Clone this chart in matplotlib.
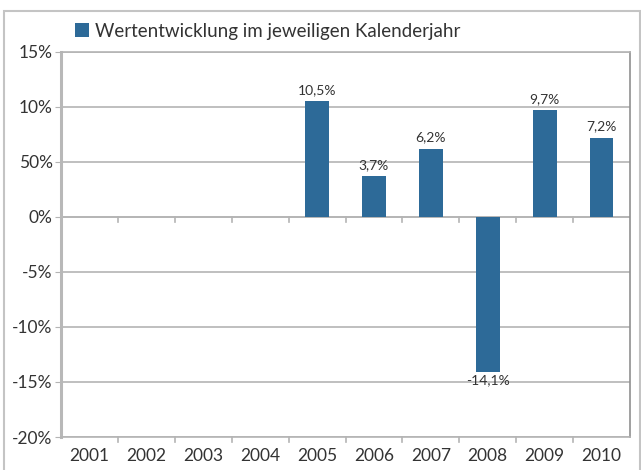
import numpy as np
import matplotlib
matplotlib.use("Agg")
import matplotlib.pyplot as plt
from matplotlib.patches import Rectangle

years = ["2001", "2002", "2003", "2004", "2005", "2006", "2007", "2008", "2009", "2010"]
values = [np.nan, np.nan, np.nan, np.nan, 10.5, 3.7, 6.2, -14.1, 9.7, 7.2]
labels = ["", "", "", "", "10,5%", "3,7%", "6,2%", "-14,1%", "9,7%", "7,2%"]
yticks = [15, 10, 5, 0, -5, -10, -15, -20]
yticklabels = ["15%", "10%", "50%", "0%", "-5%", "-10%", "-15%", "-20%"]
series_name = "Wertentwicklung im jeweiligen Kalenderjahr"

plt.rcParams["font.family"] = ["Lato", "DejaVu Sans"]
txt = "#333333"
grid = "#b4b4b4"
blue = "#2d6a98"

fig = plt.figure(figsize=(6.41, 4.70), dpi=100)
ax = fig.add_axes([61 / 641, 1 - 437 / 470, (630 - 61) / 641, (437 - 52) / 470])

x = np.arange(len(years))
bars = ax.bar(x, values, width=0.42, color=blue, zorder=3, label=series_name)

for xi, v, lab in zip(x, values, labels):
    if np.isnan(v):
        continue
    if v >= 0:
        ax.text(xi, v + 0.5, lab, ha="center", va="bottom", fontsize=10, color=txt)
    else:
        ax.text(xi, v - 0.2, lab, ha="center", va="top", fontsize=10, color=txt)

ax.set_xlim(-0.5, len(years) - 0.5)
ax.set_ylim(-20, 15)
ax.set_yticks(yticks)
ax.set_yticklabels(yticklabels, fontsize=12.5, color=txt)
ax.yaxis.grid(True, color=grid, lw=1.2, zorder=0)
ax.tick_params(axis="y", length=4, color=grid, pad=2)

ax.set_xticks(x)
ax.set_xticklabels(years, fontsize=12.5, color=txt)
ax.tick_params(axis="x", length=0, pad=8)
# category boundary ticks at bottom and on the zero line
for b in np.arange(0.5, len(years) - 0.5, 1.0):
    ax.plot([b, b], [-20, -20.45], color=grid, lw=1.2, clip_on=False, zorder=2)
    ax.plot([b, b], [0, -0.45], color=grid, lw=1.2, zorder=2)
ax.axhline(0, color=grid, lw=1.2, zorder=2)

ax.spines["left"].set_color("#b8b8b8")
ax.spines["left"].set_linewidth(2.2)
ax.spines["right"].set_color("#909090")
ax.spines["right"].set_linewidth(1.2)
ax.spines["top"].set_color(grid)
ax.spines["top"].set_linewidth(1.2)
ax.spines["bottom"].set_color(grid)
ax.spines["bottom"].set_linewidth(1.2)

leg = ax.legend(loc="center left", bbox_to_anchor=(67 / 641, 1 - 31 / 470),
                bbox_transform=fig.transFigure, frameon=False, fontsize=13.5,
                handlelength=0.75, handleheight=0.8, handletextpad=0.35,
                borderaxespad=0, labelcolor=txt)

fig.patches.append(Rectangle((4 / 641, -0.05), (641 - 5) / 641, 1.05 - 11 / 470,
                             transform=fig.transFigure, fill=False,
                             edgecolor="#c4c4c4", lw=1.5))

fig.savefig("out.png", dpi=100)
